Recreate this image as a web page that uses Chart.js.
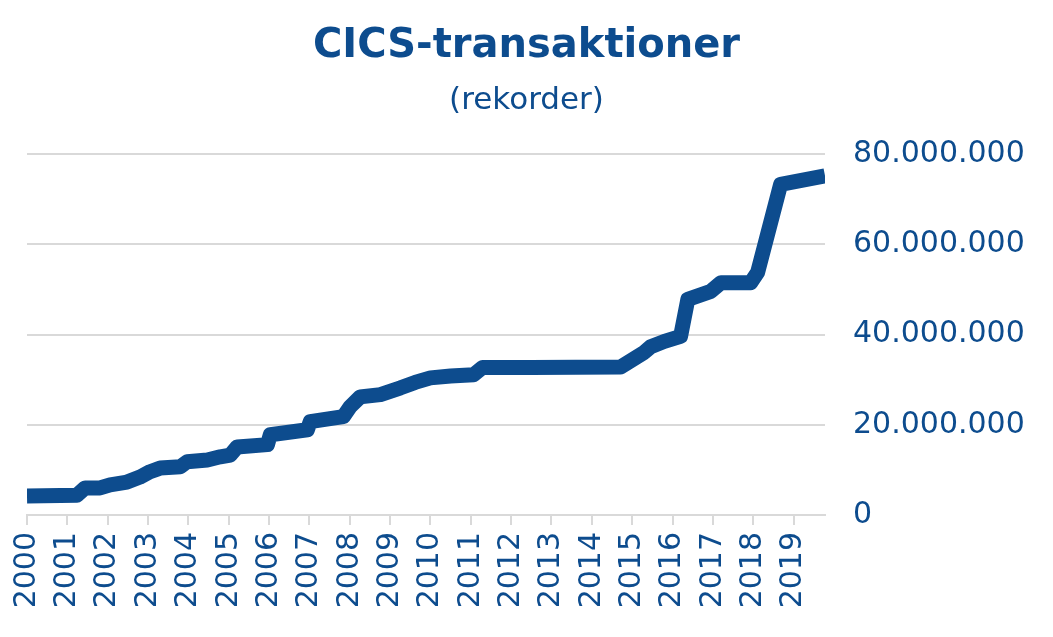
<!DOCTYPE html>
<html><head><meta charset="utf-8">
<script src="https://cdn.jsdelivr.net/npm/chart.js@4"></script>
<style>html,body{margin:0;padding:0;background:#fff}</style>
</head><body>
<canvas id="c" width="1053" height="637"></canvas>
<script>
// Time (decimal year) of each record sample
const times = [2000.0, 2001.24, 2001.44, 2001.81, 2002.06, 2002.48, 2002.80, 2003.05, 2003.30, 2003.80,
  2003.97, 2004.47, 2004.79, 2005.04, 2005.21, 2005.96, 2006.03, 2006.95, 2007.02, 2007.84,
  2008.01, 2008.26, 2008.76, 2009.26, 2009.62, 2010.0, 2010.5, 2011.07, 2011.29, 2012.5,
  2014.71, 2015.29, 2015.46, 2015.8, 2016.20, 2016.38, 2016.95, 2017.20, 2017.94, 2018.11,
  2018.68, 2019.78];
// CICS transactions (records)
const records = [4200000, 4400000, 6000000, 6000000, 6700000, 7300000, 8400000, 9600000, 10400000, 10700000,
  11800000, 12200000, 12900000, 13300000, 15100000, 15600000, 17800000, 18900000, 20700000, 21800000,
  24000000, 26200000, 26700000, 28200000, 29400000, 30400000, 30800000, 31100000, 32700000, 32700000,
  32800000, 36000000, 37300000, 38500000, 39600000, 47800000, 49600000, 51500000, 51500000, 53800000,
  73300000, 75200000];
const yearTicks = [2000,2001,2002,2003,2004,2005,2006,2007,2008,2009,2010,2011,2012,2013,2014,2015,2016,2017,2018,2019];
const valueTicks = [0, 20000000, 40000000, 60000000, 80000000];

const BLUE = '#0d4c8e';
const GRID = '#d9d9d9';
const points = times.map((t, i) => ({x: t, y: records[i]}));
const fmt = v => String(Math.round(v)).replace(/\B(?=(\d{3})+(?!\d))/g, '.');

new Chart(document.getElementById('c'), {
  type: 'line',
  data: { datasets: [{
    data: points,
    borderColor: BLUE,
    borderWidth: 15,
    borderJoinStyle: 'round',
    borderCapStyle: 'butt',
    pointRadius: 0,
    tension: 0,
    fill: false
  }]},
  options: {
    responsive: false,
    animation: false,
    events: [],
    layout: { padding: 0 },
    plugins: {
      legend: { display: false },
      tooltip: { enabled: false },
      title: {
        display: true,
        text: 'CICS-transaktioner',
        color: BLUE,
        font: { family: 'DejaVu Sans', size: 40, weight: 'bold' },
        padding: { top: 23, bottom: 0 }
      },
      subtitle: {
        display: true,
        text: '(rekorder)',
        color: BLUE,
        font: { family: 'DejaVu Sans', size: 31, weight: 'normal' },
        padding: { top: 11, bottom: 35 }
      }
    },
    scales: {
      x: {
        type: 'linear',
        min: 2000,
        max: 2019.78,
        afterBuildTicks: s => { s.ticks = yearTicks.map(v => ({value: v})); },
        afterFit: s => { s.height = 122; },
        ticks: {
          includeBounds: false,
          autoSkip: false,
          minRotation: 90,
          maxRotation: 90,
          color: BLUE,
          padding: 7,
          font: { family: 'DejaVu Sans', size: 30 },
          callback: v => String(v)
        },
        grid: { drawOnChartArea: false, drawTicks: true, tickLength: 10, color: GRID, lineWidth: 2 },
        border: { display: true, color: GRID, width: 2 }
      },
      yl: {
        position: 'left',
        display: true,
        min: 0,
        max: 80000000,
        afterFit: s => { s.width = 27; },
        ticks: { display: false },
        grid: { display: false, drawTicks: false },
        border: { display: false }
      },
      y: {
        position: 'right',
        min: 0,
        max: 80000000,
        afterBuildTicks: s => { s.ticks = valueTicks.map(v => ({value: v})); },
        afterFit: s => { s.width = 228; },
        ticks: {
          color: BLUE,
          padding: 28,
          font: { family: 'DejaVu Sans', size: 30 },
          callback: v => fmt(v)
        },
        grid: { drawTicks: false, color: GRID, lineWidth: 2 },
        border: { display: false }
      }
    }
  }
});
</script>
</body></html>
